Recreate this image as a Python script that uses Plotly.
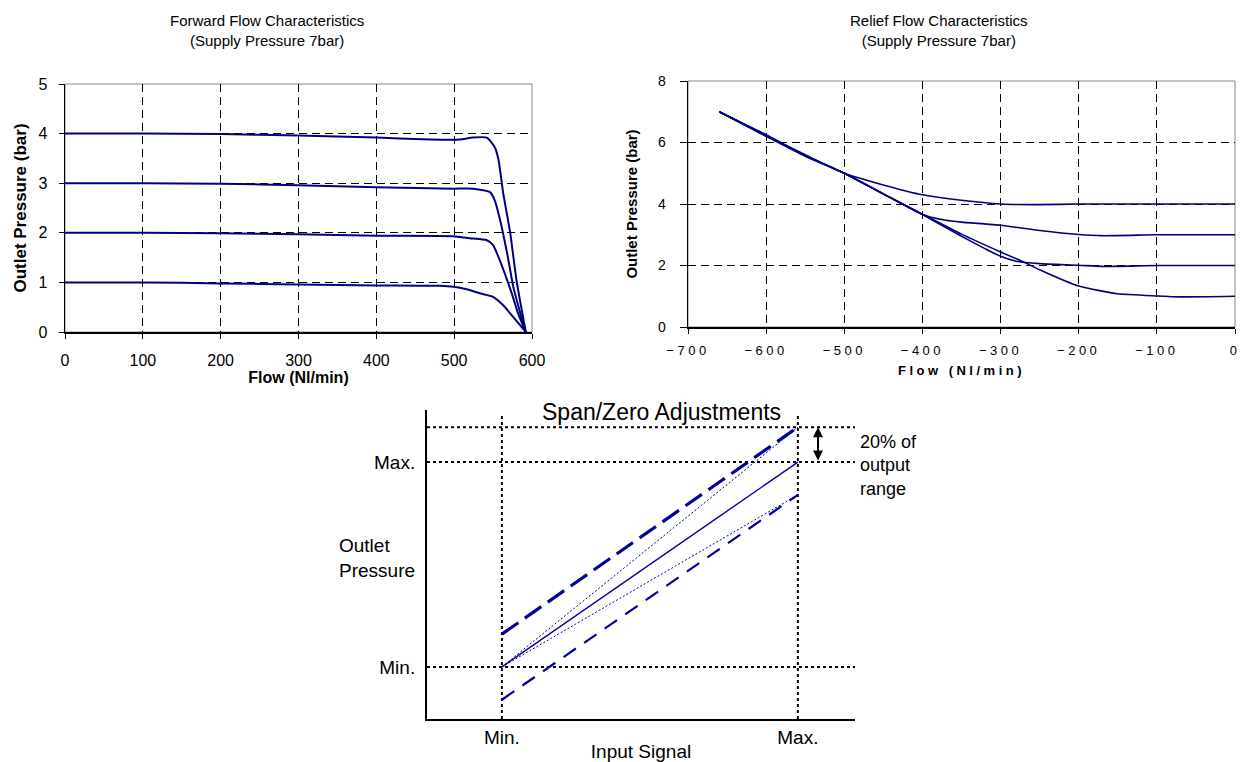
import plotly.graph_objects as go

# ---------------- data ----------------
# Forward flow characteristics (flow Nl/min, outlet pressure bar)
fwd_flow_4 = [0, 100, 200, 300, 400, 430, 470, 507, 524, 542, 552, 557, 563, 572, 580, 592]
fwd_p_4 = [4.0, 4.0, 3.99, 3.96, 3.92, 3.90, 3.88, 3.88, 3.92, 3.92, 3.73, 3.47, 2.80, 2.0, 1.05, 0.0]
fwd_flow_3 = [0, 100, 200, 300, 400, 470, 499, 524, 546, 552, 559, 568, 576, 585, 592]
fwd_p_3 = [3.0, 3.0, 2.99, 2.96, 2.92, 2.90, 2.89, 2.89, 2.82, 2.66, 2.26, 1.59, 0.91, 0.38, 0.0]
fwd_flow_2 = [0, 100, 200, 300, 400, 499, 520, 542, 550, 557, 565, 574, 582, 592]
fwd_p_2 = [2.0, 2.0, 1.99, 1.97, 1.94, 1.93, 1.89, 1.85, 1.75, 1.51, 1.18, 0.78, 0.38, 0.0]
fwd_flow_1 = [0, 100, 200, 300, 400, 482, 499, 516, 533, 550, 563, 576, 592]
fwd_p_1 = [1.0, 1.0, 0.98, 0.96, 0.94, 0.93, 0.91, 0.86, 0.78, 0.71, 0.54, 0.30, 0.0]

# Relief flow characteristics
rel_flow_4 = [-660, -600, -550, -500, -450, -400, -350, -300, -250, -200, -150, -100, -50, 0]
rel_p_4 = [7.0, 6.22, 5.60, 5.0, 4.62, 4.30, 4.12, 4.0, 3.98, 4.0, 4.0, 4.0, 4.0, 4.0]
rel_flow_3 = [-660, -600, -550, -500, -450, -400, -370, -350, -300, -250, -200, -170, -100, -50, 0]
rel_p_3 = [7.0, 6.25, 5.58, 5.0, 4.33, 3.66, 3.47, 3.41, 3.31, 3.14, 3.01, 2.97, 3.0, 3.0, 3.0]
rel_flow_2 = [-660, -600, -550, -500, -450, -400, -350, -320, -300, -280, -250, -200, -170, -100, -50, 0]
rel_p_2 = [7.0, 6.20, 5.55, 5.0, 4.32, 3.66, 2.95, 2.55, 2.30, 2.14, 2.06, 2.01, 1.97, 2.0, 2.0, 2.0]
rel_flow_1 = [-660, -600, -550, -500, -450, -400, -350, -300, -270, -250, -200, -150, -100, -70, 0]
rel_p_1 = [7.0, 6.23, 5.57, 5.0, 4.33, 3.67, 3.02, 2.44, 2.11, 1.86, 1.33, 1.08, 1.01, 0.98, 1.0]

# Span / zero adjustment schematic (input signal 0=Min, 1=Max; output 0=Min, 1=Max)
signal = [0, 1]
nominal_out = [0, 1]
zero_up_out = [0.16, 1.17]
zero_down_out = [-0.16, 0.84]
span_up_out = [0, 1.17]
span_down_out = [0, 0.84]
ref_levels = [0, 1, 1.17]
ref_signals = [0, 1]
level_labels = ["Min.", "Max."]

fwd_ticks = [0, 100, 200, 300, 400, 500, 600]
rel_ticks = [-700, -600, -500, -400, -300, -200, -100, 0]

# ---------------- layout helpers ----------------
W, H = 1240, 762
FONT = "Liberation Sans, Arial, sans-serif"
NAVY = "#000080"


def fx(p):
    return p / W


def fy(p):
    return 1 - p / H


fig = go.Figure()

for fl, pr in [(fwd_flow_4, fwd_p_4), (fwd_flow_3, fwd_p_3), (fwd_flow_2, fwd_p_2), (fwd_flow_1, fwd_p_1)]:
    fig.add_trace(go.Scatter(x=fl, y=pr, mode="lines", xaxis="x", yaxis="y",
                             line=dict(color=NAVY, width=2, shape="spline", smoothing=0.5),
                             showlegend=False, hoverinfo="skip"))

for fl, pr in [(rel_flow_4, rel_p_4), (rel_flow_3, rel_p_3), (rel_flow_2, rel_p_2), (rel_flow_1, rel_p_1)]:
    fig.add_trace(go.Scatter(x=fl, y=pr, mode="lines", xaxis="x2", yaxis="y2",
                             line=dict(color=NAVY, width=1.6, shape="spline", smoothing=0.5),
                             showlegend=False, hoverinfo="skip"))

# schematic
x3_range = [-0.253, 1.193]
y3_range = [-0.254, 1.254]
v_top = 1.239
for lv in ref_levels:
    fig.add_trace(go.Scatter(x=x3_range, y=[lv, lv], mode="lines", xaxis="x3", yaxis="y3",
                             line=dict(color="black", width=2, dash="3px,3px"),
                             showlegend=False, hoverinfo="skip"))
for sv in ref_signals:
    fig.add_trace(go.Scatter(x=[sv, sv], y=[y3_range[0], v_top], mode="lines", xaxis="x3", yaxis="y3",
                             line=dict(color="black", width=2, dash="3px,3px"),
                             showlegend=False, hoverinfo="skip"))

fig.add_trace(go.Scatter(x=signal, y=span_up_out, mode="lines", xaxis="x3", yaxis="y3",
                         line=dict(color="#000099", width=1, dash="2px,2px"), showlegend=False, hoverinfo="skip"))
fig.add_trace(go.Scatter(x=signal, y=span_down_out, mode="lines", xaxis="x3", yaxis="y3",
                         line=dict(color="#000099", width=1, dash="2px,2px"), showlegend=False, hoverinfo="skip"))
fig.add_trace(go.Scatter(x=signal, y=nominal_out, mode="lines", xaxis="x3", yaxis="y3",
                         line=dict(color="#000099", width=1.4), showlegend=False, hoverinfo="skip"))
fig.add_trace(go.Scatter(x=signal, y=zero_up_out, mode="lines", xaxis="x3", yaxis="y3",
                         line=dict(color="#000099", width=3.2, dash="20px,8px"), showlegend=False, hoverinfo="skip"))
fig.add_trace(go.Scatter(x=signal, y=zero_down_out, mode="lines", xaxis="x3", yaxis="y3",
                         line=dict(color="#000099", width=2.2, dash="15px,10px"), showlegend=False, hoverinfo="skip"))

grid_dash = "8px,5px"
tickfont1 = dict(family=FONT, size=16, color="black")

fig.update_layout(
    template="none",
    width=W, height=H,
    margin=dict(l=0, r=0, t=0, b=0, autoexpand=False),
    paper_bgcolor="white", plot_bgcolor="white",
    font=dict(family=FONT, color="black"),
    showlegend=False,
    xaxis=dict(domain=[fx(65), fx(532)], anchor="y", range=[0, 600], tickvals=fwd_ticks, automargin=False,
               showgrid=True, gridcolor="black", gridwidth=1, griddash=grid_dash,
               showline=True, linecolor="black", linewidth=1.5, zeroline=False,
               ticks="outside", ticklen=5, tickcolor="black", tickfont=tickfont1, ticklabelstandoff=8,
               title=dict(text="<b>Flow (Nl/min)</b>", font=dict(family=FONT, size=16), standoff=3)),
    yaxis=dict(domain=[fy(332), fy(84)], anchor="x", range=[0, 5], tickvals=[0, 1, 2, 3, 4, 5], automargin=False,
               showgrid=True, gridcolor="black", gridwidth=1, griddash=grid_dash,
               showline=True, linecolor="black", linewidth=1.5, zeroline=False,
               ticks="outside", ticklen=5, tickcolor="black", tickfont=tickfont1, ticklabelstandoff=8,
               title=dict(text="<b>Outlet Pressure (bar)</b>", font=dict(family=FONT, size=17), standoff=7)),
    xaxis2=dict(domain=[fx(688), fx(1235)], anchor="y2", range=[-700, 0], tickvals=rel_ticks, automargin=False,
                showgrid=True, gridcolor="black", gridwidth=1, griddash=grid_dash,
                showline=True, linecolor="black", linewidth=1.5, zeroline=False,
                ticks="outside", ticklen=5, tickcolor="black", ticklabelstandoff=6,
                tickfont=dict(family=FONT, size=13, color="black"),
                title=dict(text="<b>Flow (Nl/min)</b>", font=dict(family=FONT, size=13), standoff=9)),
    yaxis2=dict(domain=[fy(327), fy(81)], anchor="x2", range=[0, 8], tickvals=[0, 2, 4, 6, 8], automargin=False,
                showgrid=True, gridcolor="black", gridwidth=1, griddash=grid_dash,
                showline=True, linecolor="black", linewidth=1.5, zeroline=False,
                ticks="outside", ticklen=7, tickcolor="black", ticklabelstandoff=11,
                tickfont=dict(family=FONT, size=14, color="black"),
                title=dict(text="<b>Outlet Pressure (bar)</b>", font=dict(family=FONT, size=15), standoff=16)),
    xaxis3=dict(domain=[fx(427), fx(855)], anchor="y3", range=x3_range, tickvals=ref_signals, automargin=False,
                ticktext=level_labels, showgrid=False, zeroline=False,
                showline=True, linecolor="black", linewidth=2, ticks="", ticklabelstandoff=0,
                tickfont=dict(family=FONT, size=19, color="black"),
                title=dict(text="Input Signal", font=dict(family=FONT, size=19), standoff=0)),
    yaxis3=dict(domain=[fy(719), fy(410)], anchor="x3", range=y3_range, tickvals=[0, 1], automargin=False,
                ticktext=level_labels, showgrid=False, zeroline=False,
                showline=True, linecolor="black", linewidth=2, ticks="", ticklabelstandoff=6,
                tickfont=dict(family=FONT, size=19, color="black")),
)

# light frame on chart borders (top/right)
fig.add_shape(type="rect", xref="x domain", yref="y domain", x0=0, x1=1, y0=0, y1=1,
              line=dict(color="#888888", width=1), layer="below")
fig.add_shape(type="rect", xref="x2 domain", yref="y2 domain", x0=0, x1=1, y0=0, y1=1,
              line=dict(color="#888888", width=1), layer="below")

annos = [
    dict(text="Forward Flow Characteristics<br>(Supply Pressure 7bar)", x=fx(267), y=fy(30),
         xanchor="center", yanchor="middle",
         xref="paper", yref="paper", showarrow=False, font=dict(family=FONT, size=15)),
    dict(text="Relief Flow Characteristics<br>(Supply Pressure 7bar)", x=fx(939), y=fy(30),
         xanchor="center", yanchor="middle",
         xref="paper", yref="paper", showarrow=False, font=dict(family=FONT, size=15)),
    dict(text="Span/Zero Adjustments", x=fx(662), y=fy(412), xref="paper", yref="paper",
         xanchor="center", yanchor="middle",
         showarrow=False, font=dict(family=FONT, size=23)),
    dict(text="Outlet<br>Pressure", x=fx(337), y=fy(558), xref="paper", yref="paper", xanchor="left",
         yanchor="middle", align="left", showarrow=False, font=dict(family=FONT, size=19)),
    dict(text="20% of<br>output<br>range", x=fx(858), y=fy(466), xref="paper", yref="paper", xanchor="left",
         yanchor="middle", align="left", showarrow=False, font=dict(family=FONT, size=18)),
    dict(x=1.068, y=ref_levels[2], ax=1.068, ay=ref_levels[1], xref="x3", yref="y3", axref="x3", ayref="y3",
         text="", showarrow=True, arrowhead=2, arrowside="end+start", arrowsize=1, arrowwidth=2,
         arrowcolor="black", startarrowhead=2, startarrowsize=1),
]
fig.update_layout(annotations=annos)

post = """
document.body.style.margin = '0';
document.body.style.padding = '0';
document.body.style.overflow = 'hidden';
var gd = document.getElementById('{plot_id}');
function sp(){
  gd.querySelectorAll('g.x2tick text').forEach(function(t){ t.style.letterSpacing='3.5px'; });
  gd.querySelectorAll('text.x2title').forEach(function(t){ t.style.letterSpacing='3.5px'; });
}
sp(); setTimeout(sp, 50); setTimeout(sp, 300);
if (gd.on) { gd.on('plotly_afterplot', sp); }
"""
fig.write_html("out.html", post_script=post, config={"displayModeBar": False, "staticPlot": True})
